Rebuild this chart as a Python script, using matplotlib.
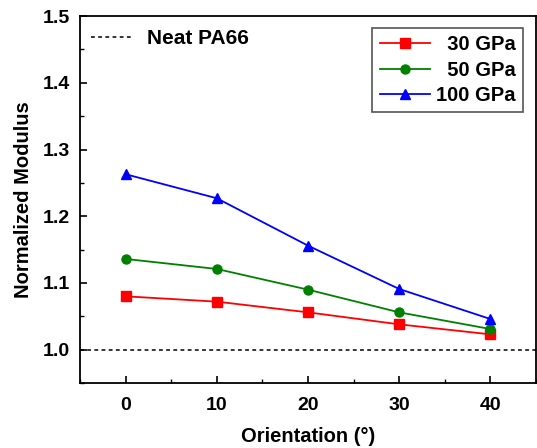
import matplotlib
matplotlib.use("Agg")
import matplotlib.pyplot as plt
from matplotlib.ticker import MultipleLocator

plt.rcParams["font.family"] = ["Liberation Sans", "DejaVu Sans"]
plt.rcParams["font.weight"] = "bold"

orientation = [0, 10, 20, 30, 40]
mod_30 = [1.080, 1.072, 1.056, 1.038, 1.023]
mod_50 = [1.136, 1.121, 1.090, 1.056, 1.031]
mod_100 = [1.263, 1.227, 1.156, 1.091, 1.046]
neat = 1.0

fig = plt.figure(figsize=(5.37, 4.48), dpi=100)
ax = fig.add_axes([0.149, 0.145, 0.849, 0.819])

l30, = ax.plot(orientation, mod_30, color="#ff0000", marker="s", markersize=6.5, lw=1.3, label="  30 GPa")
l50, = ax.plot(orientation, mod_50, color="#008000", marker="o", markersize=6.5, lw=1.3, label="  50 GPa")
l100, = ax.plot(orientation, mod_100, color="#0000ff", marker="^", markersize=7.5, lw=1.3, label="100 GPa")
ln = ax.axhline(neat, color="black", ls=(0, (2.5, 2.2)), lw=1.1, label="Neat PA66")

ax.set_xlim(-5, 45)
ax.set_ylim(0.95, 1.5)
ax.xaxis.set_major_locator(MultipleLocator(10))
ax.xaxis.set_minor_locator(MultipleLocator(5))
ax.yaxis.set_major_locator(MultipleLocator(0.1))
ax.yaxis.set_minor_locator(MultipleLocator(0.05))
ax.tick_params(which="both", direction="in", top=False, right=False, labelsize=14)
ax.tick_params(which="major", length=5, width=1.2, pad=7)
ax.tick_params(axis="x", which="major", pad=10)
ax.tick_params(which="minor", length=3, width=1.0)
for s in ax.spines.values():
    s.set_linewidth(1.3)

ax.set_xlabel("Orientation (°)", fontsize=14.5, fontweight="bold", labelpad=9.5)
ax.set_ylabel("Normalized Modulus", fontsize=14.5, fontweight="bold", labelpad=7)

leg1 = ax.legend(handles=[l30, l50, l100], loc="upper right", bbox_to_anchor=(0.971, 0.968),
                 fontsize=14.5, fancybox=False, edgecolor="#555555", framealpha=1,
                 handlelength=2.5, handletextpad=0.3, borderpad=0.35, labelspacing=0.33,
                 borderaxespad=0)
leg1.get_frame().set_linewidth(1.2)
ax.add_artist(leg1)
ax.legend(handles=[ln], loc="upper left", bbox_to_anchor=(0.006, 0.987), frameon=False,
          fontsize=15, handlelength=2.0, handletextpad=0.7, borderaxespad=0)

fig.savefig("out.png", dpi=100)
